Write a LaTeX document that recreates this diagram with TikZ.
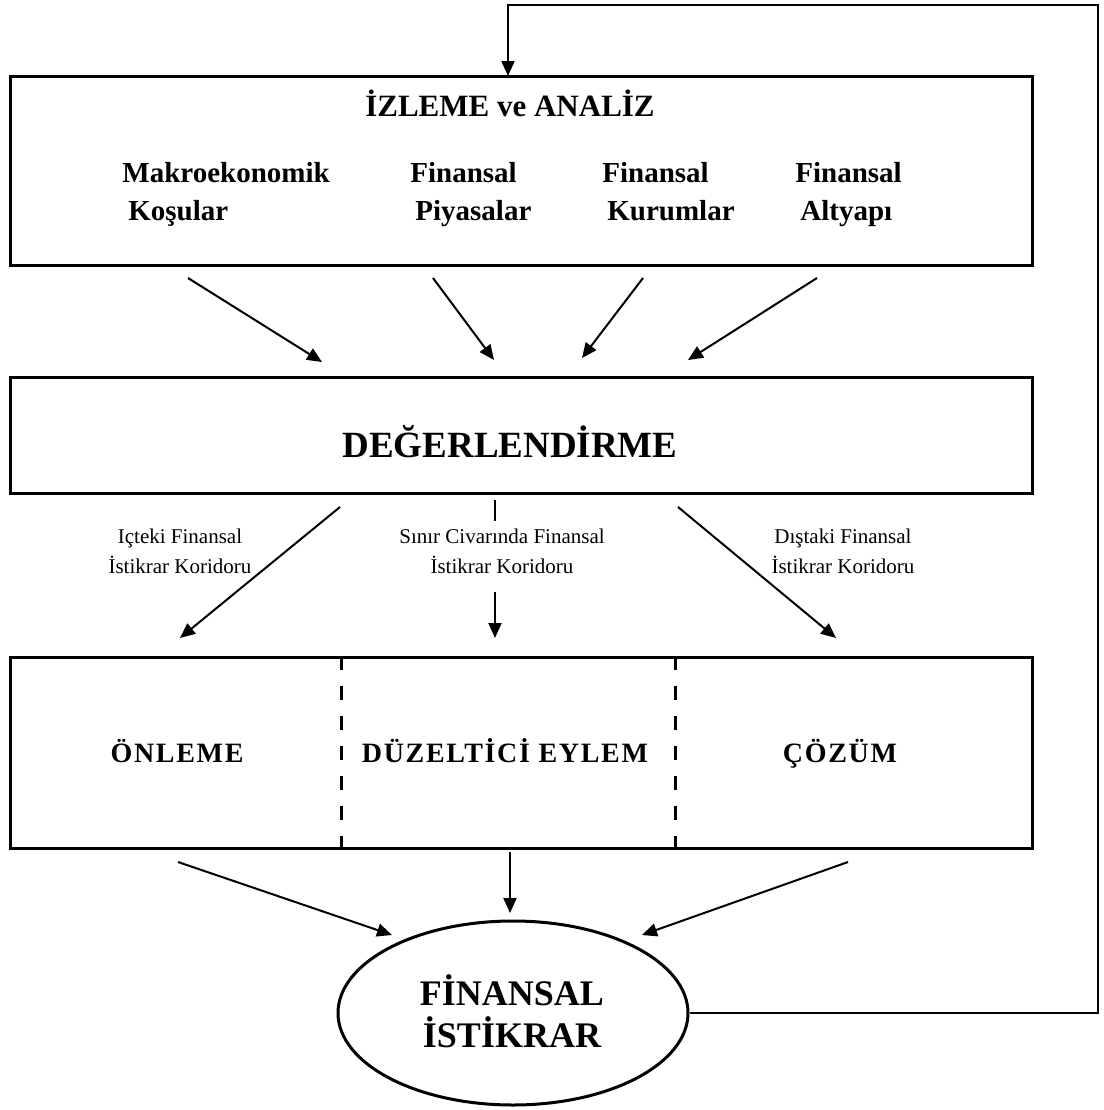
\documentclass[tikz,border=0pt]{standalone}
\usepackage{fontspec}
\setmainfont{Liberation Serif}
\usetikzlibrary{arrows.meta,shapes.geometric}
\begin{document}
\begin{tikzpicture}[x=0.5pt,y=-0.5pt,
  box/.style={draw, line width=1.5pt, minimum width=511pt, inner sep=0pt},
  arr/.style={line width=1pt, -{Triangle[length=7.5pt,width=6.5pt]}},
  plain/.style={line width=1pt},
  divider/.style={line width=1.5pt, dash pattern=on 7pt off 8pt},
  titletxt/.style={font=\fontsize{15.5}{19}\selectfont\bfseries, inner sep=0pt, anchor=base},
  itemtxt/.style={font=\fontsize{14.5}{19}\selectfont\bfseries, inner sep=0pt, anchor=base west},
  bigtxt/.style={font=\fontsize{18.5}{22}\selectfont\bfseries, inner sep=0pt, anchor=base},
  smalltxt/.style={font=\fontsize{10.5}{15}\selectfont, align=center, inner sep=0pt},
  rowtxt/.style={font=\fontsize{14}{17}\selectfont\bfseries\addfontfeatures{LetterSpace=6}, inner sep=0pt, anchor=base},
  elltxt/.style={font=\fontsize{18}{21}\selectfont\bfseries, align=center, inner sep=0pt}
]
\useasboundingbox (0,0) rectangle (1104,1110);

% boxes
\node[box, minimum height=94.5pt] (top) at (521,170.5) {};
\node[box, minimum height=58pt] (mid) at (521,435) {};
\node[box, minimum height=95.5pt] (bot) at (521,752.5) {};
\draw[divider] ([xshift=166.5pt]bot.north west) -- ([xshift=166.5pt]bot.south west);
\draw[divider] ([xshift=333.5pt]bot.north west) -- ([xshift=333.5pt]bot.south west);

\node[draw, ellipse, line width=1.5pt, minimum width=175pt, minimum height=92pt, inner sep=0pt] (fin) at (513,1013) {};

% texts
\node[titletxt] (t1) at (510,116) {İZLEME ve ANALİZ};
\node[itemtxt] (i1a) at (122,182) {Makroekonomik};
\node[itemtxt] (i1b) at (128,220) {Koşular};
\node[itemtxt] (i2a) at (410,182) {Finansal};
\node[itemtxt] (i2b) at (415,220) {Piyasalar};
\node[itemtxt] (i3a) at (602,182) {Finansal};
\node[itemtxt] (i3b) at (607,220) {Kurumlar};
\node[itemtxt] (i4a) at (795,182) {Finansal};
\node[itemtxt] (i4b) at (800,220) {Altyapı};
\node[bigtxt] (t2) at (510,457) {DEĞERLENDİRME};
\node[smalltxt] (l1) at (180,551) {Içteki Finansal\\İstikrar Koridoru};
\node[smalltxt] (l2) at (502,551) {Sınır Civarında Finansal\\İstikrar Koridoru};
\node[smalltxt] (l3) at (843,551) {Dıştaki Finansal\\İstikrar Koridoru};
\node[rowtxt] (r1) at (177,762) {ÖNLEME};
\node[rowtxt] (r2) at (505,762) {DÜZELTİCİ EYLEM};
\node[rowtxt] (r3) at (840,762) {ÇÖZÜM};
\node[elltxt] (t3) at (512,1011) {FİNANSAL\\İSTİKRAR};

% arrow coordinates
\coordinate (a1s) at (188,278); \coordinate (a1e) at (322,362);
\coordinate (a2s) at (433,278); \coordinate (a2e) at (494,360);
\coordinate (a3s) at (643,278); \coordinate (a3e) at (582,358);
\coordinate (a4s) at (817,278); \coordinate (a4e) at (688,360);
\coordinate (b1s) at (340,507); \coordinate (b1e) at (180,638);
\coordinate (b2a) at (495,500); \coordinate (b2b) at (495,521);
\coordinate (b2s) at (495,592); \coordinate (b2e) at (495,638);
\coordinate (b3s) at (678,507); \coordinate (b3e) at (836,638);
\coordinate (c1s) at (178,862); \coordinate (c1e) at (392,935);
\coordinate (c2s) at (510,852); \coordinate (c2e) at (510,913);
\coordinate (c3s) at (848,862); \coordinate (c3e) at (642,935);
\coordinate (fbA) at (1098,5);
\coordinate (topin) at (508,76);

\draw[arr] (a1s) -- (a1e);
\draw[arr] (a2s) -- (a2e);
\draw[arr] (a3s) -- (a3e);
\draw[arr] (a4s) -- (a4e);
\draw[arr] (b1s) -- (b1e);
\draw[plain] (b2a) -- (b2b);
\draw[arr] (b2s) -- (b2e);
\draw[arr] (b3s) -- (b3e);
\draw[arr] (c1s) -- (c1e);
\draw[arr] (c2s) -- (c2e);
\draw[arr] (c3s) -- (c3e);
\draw[arr] (fin.east) -| (fbA) -| (topin);
\end{tikzpicture}
\end{document}
